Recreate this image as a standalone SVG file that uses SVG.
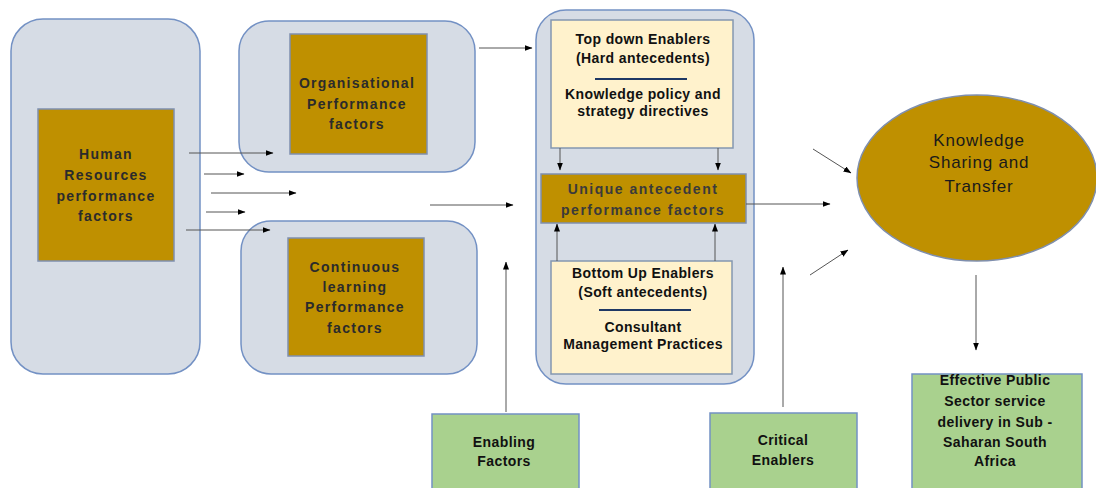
<svg xmlns="http://www.w3.org/2000/svg" width="1096" height="488" viewBox="0 0 1096 488">
<defs>
<marker id="ah" markerWidth="8" markerHeight="6" refX="7.5" refY="3" orient="auto" markerUnits="userSpaceOnUse">
<path d="M0,0 L8,3 L0,6 Z" fill="#000"/>
</marker>
<style>
.outer{fill:#D6DCE5;stroke:#7391C4;stroke-width:1.5}
.gold{fill:#BF9000;stroke:#7F8FAE;stroke-width:1.5}
.yel{fill:#FFF2CC;stroke:#8497B0;stroke-width:1.5}
.grn{fill:#A9D18E;stroke:#7391C4;stroke-width:1.5}
.sep{stroke:#1F3864;stroke-width:2}
.t{font-family:"Liberation Sans",Arial,sans-serif;font-weight:bold;font-size:14px;fill:#262626;text-anchor:middle;dominant-baseline:central}
.tg{letter-spacing:1.3px;fill:#2b2b2b}
.ty{letter-spacing:0.4px;fill:#111}
.tu{letter-spacing:1.5px;fill:#3a3a3a}
.te{font-family:"Liberation Sans",Arial,sans-serif;font-size:17px;fill:#1a1a1a;text-anchor:middle;dominant-baseline:central;letter-spacing:0.8px}
.c{stroke:#555;stroke-width:1;fill:none;marker-end:url(#ah)}
</style>
</defs>
<rect width="1096" height="488" fill="#fff"/>

<g id="hr">
<rect class="outer" x="11" y="19" width="189" height="355" rx="32"/>
<rect class="gold" x="38" y="109" width="136" height="152"/>
<text class="t tg"><tspan x="106" y="154">Human</tspan><tspan x="106" y="175">Resources</tspan><tspan x="106" y="196">performance</tspan><tspan x="106" y="216">factors</tspan></text>
</g>

<g id="org">
<rect class="outer" x="239" y="21" width="236" height="151" rx="30"/>
<rect class="gold" x="290" y="34" width="137" height="120"/>
<text class="t tg"><tspan x="357" y="83">Organisational</tspan><tspan x="357" y="104">Performance</tspan><tspan x="357" y="124">factors</tspan></text>
</g>

<g id="cl">
<rect class="outer" x="241" y="221" width="236" height="153" rx="30"/>
<rect class="gold" x="288" y="238" width="136" height="118"/>
<text class="t tg"><tspan x="355" y="267">Continuous</tspan><tspan x="355" y="287">learning</tspan><tspan x="355" y="307">Performance</tspan><tspan x="355" y="328">factors</tspan></text>
</g>

<g id="center">
<rect class="outer" x="536" y="10" width="218" height="374" rx="30"/>
</g>

<g id="topdown">
<rect class="yel" x="551" y="20" width="182" height="128"/>
<text class="t ty"><tspan x="643" y="39">Top down Enablers</tspan><tspan x="643" y="58">(Hard antecedents)</tspan></text>
<line class="sep" x1="595" y1="79" x2="687" y2="79"/>
<text class="t ty"><tspan x="643" y="94">Knowledge policy and</tspan><tspan x="643" y="111">strategy directives</tspan></text>
</g>

<g id="unique">
<rect class="gold" x="541" y="174" width="205" height="49"/>
<text class="t tu"><tspan x="643" y="189">Unique antecedent</tspan><tspan x="643" y="210">performance factors</tspan></text>
</g>

<g id="bottomup">
<rect class="yel" x="551" y="261" width="181" height="113"/>
<text class="t ty"><tspan x="643" y="273">Bottom Up Enablers</tspan><tspan x="643" y="292">(Soft antecedents)</tspan></text>
<line class="sep" x1="599" y1="310" x2="691" y2="310"/>
<text class="t ty"><tspan x="643" y="327">Consultant</tspan><tspan x="643" y="344">Management Practices</tspan></text>
</g>

<g id="kst">
<ellipse cx="977" cy="178" rx="120" ry="83" fill="#BF9000" stroke="#7F8FAE" stroke-width="1.5"/>
<text class="te"><tspan x="979" y="140">Knowledge</tspan><tspan x="979" y="162">Sharing and</tspan><tspan x="979" y="186">Transfer</tspan></text>
</g>

<g id="enabling">
<rect class="grn" x="432" y="414" width="147" height="80"/>
<text class="t ty"><tspan x="504" y="442">Enabling</tspan><tspan x="504" y="461">Factors</tspan></text>
</g>

<g id="critical">
<rect class="grn" x="710" y="413" width="147" height="80"/>
<text class="t ty"><tspan x="783" y="440">Critical</tspan><tspan x="783" y="460">Enablers</tspan></text>
</g>

<g id="effective">
<rect class="grn" x="912" y="374" width="170" height="120"/>
<text class="t ty"><tspan x="995" y="380">Effective Public</tspan><tspan x="995" y="401">Sector service</tspan><tspan x="995" y="422">delivery in Sub -</tspan><tspan x="995" y="442">Saharan South</tspan><tspan x="995" y="461">Africa</tspan></text>
</g>

<g id="connectors">
<line class="c" x1="189" y1="153" x2="273" y2="153"/>
<line class="c" x1="204" y1="174" x2="244" y2="174"/>
<line class="c" x1="211" y1="193" x2="296" y2="193"/>
<line class="c" x1="206" y1="212" x2="245" y2="212"/>
<line class="c" x1="186" y1="230" x2="270" y2="230"/>
<line class="c" x1="479" y1="48" x2="532" y2="48"/>
<line class="c" x1="430" y1="205" x2="513" y2="205"/>
<line class="c" x1="560" y1="148" x2="560" y2="170"/>
<line class="c" x1="718" y1="148" x2="718" y2="170"/>
<line class="c" x1="557" y1="261" x2="557" y2="224"/>
<line class="c" x1="715" y1="261" x2="715" y2="224"/>
<line class="c" x1="746" y1="204" x2="830" y2="204"/>
<line class="c" x1="813" y1="149" x2="851" y2="173"/>
<line class="c" x1="810" y1="275" x2="848" y2="250"/>
<line class="c" x1="506" y1="412" x2="506" y2="262"/>
<line class="c" x1="783" y1="407" x2="783" y2="267"/>
<line class="c" x1="976" y1="275" x2="976" y2="350"/>
</g>
</svg>
